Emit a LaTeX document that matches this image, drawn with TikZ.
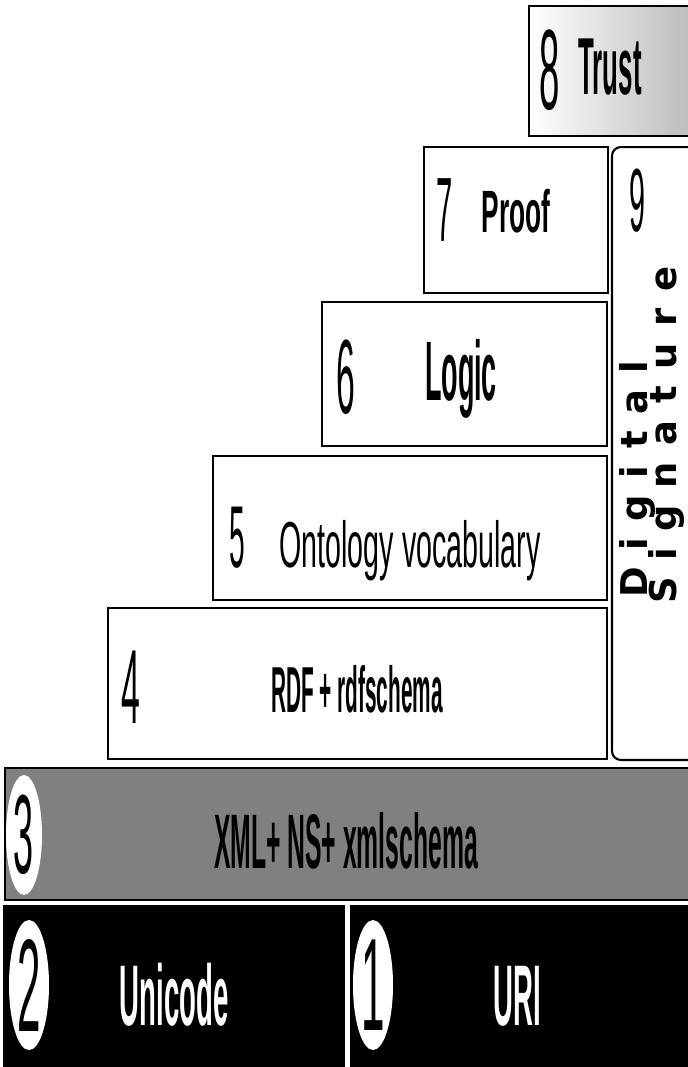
\documentclass[tikz,border=0pt]{standalone}
\usepackage{fontspec}
\setmainfont{Liberation Sans}
\usetikzlibrary{shapes.geometric}
\newfontfamily\narrow[FakeStretch=0.32]{Liberation Sans}
\newfontfamily\semi[FakeStretch=0.44]{Liberation Sans}
\newfontfamily\digitfont[FakeStretch=0.32]{Liberation Sans}
\newfontfamily\sigfont[LetterSpace=45]{DejaVu Sans}

\begin{document}
\begin{tikzpicture}[x=0.02cm, y=-0.02cm,
    layer/.style={draw=black, line width=1.2pt, fill=white, inner sep=0pt},
    darkbox/.style={fill=black, inner sep=0pt},
    num/.style={font=\digitfont\fontsize{#1}{#1}\selectfont, anchor=base, inner sep=0pt},
    lbl/.style={font=\narrow\bfseries\fontsize{#1}{#1}\selectfont, anchor=base, inner sep=0pt},
    wlbl/.style={font=\semi\fontsize{#1}{#1}\selectfont, anchor=base, inner sep=0pt},
    oval/.style={ellipse, fill=white, inner sep=0pt, minimum width=0.8cm, minimum height=2.6cm,
      font=\digitfont\fontsize{75}{75}\selectfont},
    sig/.style={font=\sigfont\bfseries\fontsize{21}{21}\selectfont, rotate=90, anchor=base west, inner sep=0pt}
  ]
  \clip (0,0) rectangle (688,1067);

  % signature column
  \node[layer, rounded corners=5pt, minimum width=1.76cm, minimum height=12.26cm] (sigbox) at (656,453.5) {};
  \node[num=51] (n9) at (637,232) {9};
  \node[sig] (dig) at (647,598) {Digital};
  \node[sig] (sgn) at (676,604) {Signature};

  % staircase
  \node[layer, left color=white, middle color=white, right color=gray!55, minimum width=3.42cm, minimum height=2.6cm] (trust) at (614.5,71) {};
  \node[num=65] (n8) at (550,110) {8};
  \node[lbl=46] (ltrust) at (610,95) {Trust};

  \node[layer, minimum width=3.68cm, minimum height=2.92cm] (proof) at (516,220) {};
  \node[num=52] (n7) at (445,242) {7};
  \node[wlbl=34] (lproof) at (516,233) {\bfseries Proof};

  \node[layer, minimum width=5.7cm, minimum height=2.88cm] (logic) at (464.5,374) {};
  \node[num=60] (n6) at (346,413) {6};
  \node[lbl=48] (llogic) at (461,400) {Logic};

  \node[layer, minimum width=7.88cm, minimum height=2.88cm] (onto) at (410,528) {};
  \node[num=50] (n5) at (237,567) {5};
  \node[wlbl=37] (lonto) at (410,567) {Ontology vocabulary};

  \node[layer, minimum width=9.98cm, minimum height=3.02cm] (rdf) at (357.5,683.5) {};
  \node[num=60] (n4) at (131,723) {4};
  \node[lbl=37] (lrdf) at (357,712) {RDF + rdfschema};

  % base layers
  \node[layer, fill=black!50, minimum width=13.9cm, minimum height=2.64cm] (xml) at (352.5,834) {};
  \node[oval, minimum width=0.72cm, minimum height=2.4cm, font=\digitfont\fontsize{64}{64}\selectfont] (o3) at (24,835) {3};
  \node[lbl=44] (lxml) at (346,868) {XML+ NS+ xmlschema};

  \node[darkbox, minimum width=6.84cm, minimum height=3.3cm] (uni) at (174,987.5) {};
  \node[oval] (o2) at (29,985) {2};
  \node[lbl=49, text=white] (luni) at (174,1025) {Unicode};

  \node[darkbox, minimum width=7cm, minimum height=3.3cm] (uri) at (525,987.5) {};
  \node[oval] (o1) at (373,985) {1};
  \node[lbl=49, text=white] (luri) at (517,1025) {URI};
\end{tikzpicture}
\end{document}
